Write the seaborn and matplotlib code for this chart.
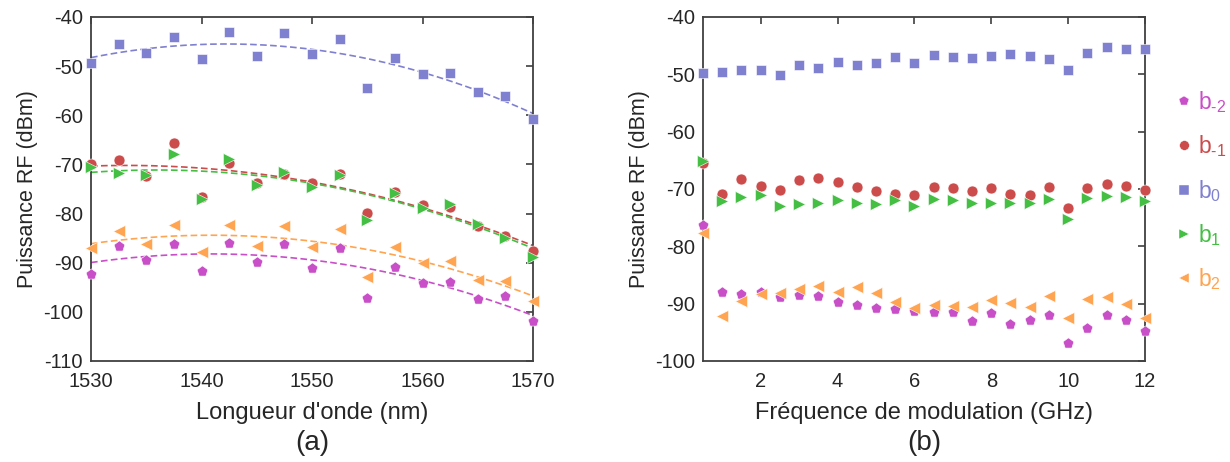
import numpy as np
import pandas as pd
import seaborn as sns
import matplotlib
matplotlib.use("Agg")
import matplotlib.pyplot as plt
from matplotlib.lines import Line2D

# ---------------- data ----------------
wavelength = [1530, 1532.5, 1535, 1537.5, 1540, 1542.5, 1545, 1547.5, 1550,
              1552.5, 1555, 1557.5, 1560, 1562.5, 1565, 1567.5, 1570]
a_bm2 = [-92.3, -86.5, -89.4, -86.2, -91.6, -85.9, -89.9, -86.2, -91.0,
         -87.1, -97.2, -90.9, -94.1, -94.0, -97.4, -96.7, -101.8]
a_bm1 = [-69.9, -69.2, -72.4, -65.6, -76.6, -69.7, -73.7, -72.0, -73.7,
         -71.9, -79.9, -75.6, -78.2, -78.6, -82.6, -84.6, -87.7]
a_b0 = [-49.4, -45.5, -47.4, -44.0, -48.6, -43.0, -48.0, -43.3, -47.6,
        -44.4, -54.5, -48.4, -51.5, -51.3, -55.2, -56.0, -60.8]
a_b1 = [-70.5, -71.7, -72.2, -67.8, -77.0, -68.8, -74.1, -71.5, -74.6,
        -72.2, -81.4, -75.9, -78.8, -78.0, -82.2, -85.0, -88.8]
a_b2 = [-87.1, -83.5, -86.2, -82.4, -87.8, -82.4, -86.5, -82.6, -86.9,
        -83.1, -92.9, -86.8, -90.0, -89.6, -93.5, -93.7, -97.7]

frequency = [0.5, 1, 1.5, 2, 2.5, 3, 3.5, 4, 4.5, 5, 5.5, 6, 6.5, 7, 7.5, 8,
             8.5, 9, 9.5, 10, 10.5, 11, 11.5, 12]
b_bm2 = [-76.2, -87.9, -88.3, -87.9, -88.8, -88.5, -88.6, -89.7, -90.3, -90.7,
         -91.0, -91.3, -91.4, -91.4, -93.1, -91.6, -93.5, -92.8, -91.9, -96.9,
         -94.3, -92.0, -92.9, -94.7]
b_bm1 = [-65.4, -70.8, -68.3, -69.4, -70.1, -68.5, -68.1, -68.7, -69.7, -70.3,
         -70.8, -71.1, -69.7, -69.9, -70.4, -69.9, -70.8, -71.1, -69.6, -73.4,
         -69.8, -69.2, -69.4, -70.2]
b_b0 = [-49.7, -49.6, -49.2, -49.3, -50.2, -48.3, -48.9, -47.9, -48.4, -48.0,
        -46.9, -48.0, -46.7, -47.0, -47.2, -46.8, -46.5, -46.8, -47.3, -49.3,
        -46.2, -45.3, -45.6, -45.5]
b_b1 = [-65.1, -72.1, -71.4, -71.0, -73.0, -72.6, -72.4, -71.9, -72.5, -72.6,
        -72.0, -72.9, -71.7, -71.9, -72.4, -72.5, -72.4, -72.5, -71.8, -75.2,
        -71.6, -71.2, -71.4, -72.1]
b_b2 = [-77.7, -92.2, -89.5, -88.3, -88.1, -87.4, -86.9, -87.9, -87.1, -88.1,
        -89.7, -90.8, -90.2, -90.4, -90.6, -89.4, -89.8, -90.5, -88.6, -92.5,
        -89.2, -88.8, -90.0, -92.5]

series_labels = [r"$\mathregular{b_{\text{-}2}}$", r"$\mathregular{b_{\text{-}1}}$",
                 r"$\mathregular{b_{0}}$", r"$\mathregular{b_{1}}$",
                 r"$\mathregular{b_{2}}$"]
colors = ["#c84fc8", "#cc4b4b", "#8080d0", "#44bf44", "#ffa450"]
markers = ["p", "o", "s", ">", "<"]
msizes = [66, 62, 62, 76, 76]

# ---------------- style ----------------
sns.set_theme(style="white")
plt.rcParams["font.family"] = ["Liberation Sans", "DejaVu Sans"]
plt.rcParams["mathtext.fontset"] = "custom"
plt.rcParams["mathtext.rm"] = "Liberation Sans"
plt.rcParams["axes.unicode_minus"] = False
text_c = "#262626"
spine_c = "#404040"

fig = plt.figure(figsize=(12.3, 4.62), dpi=100)
axA = fig.add_axes([91 / 1230, 1 - 361 / 462, 442 / 1230, 344 / 462])
axB = fig.add_axes([703 / 1230, 1 - 361 / 462, 442 / 1230, 344 / 462])

ser_a = [a_bm2, a_bm1, a_b0, a_b1, a_b2]
ser_b = [b_bm2, b_bm1, b_b0, b_b1, b_b2]

# panel (a): quadratic fits (dashed), then points
grid = np.linspace(min(wavelength), max(wavelength), 200)
for vals, c in zip(ser_a, colors):
    coef = np.polyfit(wavelength, vals, 2)
    sns.lineplot(x=grid, y=np.polyval(coef, grid), ax=axA, color=c,
                 linewidth=1.2, linestyle=(0, (4, 2)), zorder=2)
for vals, c, m, s in zip(ser_a, colors, markers, msizes):
    sns.scatterplot(x=wavelength, y=vals, ax=axA, color=c, marker=m, s=s,
                    edgecolor="white", linewidth=0.4, zorder=3, clip_on=False)

for vals, c, m, s in zip(ser_b, colors, markers, msizes):
    sns.scatterplot(x=frequency, y=vals, ax=axB, color=c, marker=m, s=s,
                    edgecolor="white", linewidth=0.4, zorder=3, clip_on=False)

axA.set_xlim(1530, 1570)
axA.set_ylim(-110, -40)
axA.set_xticks([1530, 1540, 1550, 1560, 1570])
axA.set_yticks(np.arange(-110, -39, 10))
axB.set_xlim(0.5, 12)
axB.set_ylim(-100, -40)
axB.set_xticks([2, 4, 6, 8, 10, 12])
axB.set_yticks(np.arange(-100, -39, 10))

for ax in (axA, axB):
    for sp in ax.spines.values():
        sp.set_color(spine_c)
        sp.set_linewidth(1.3)
        sp.set_visible(True)
    ax.tick_params(direction="in", top=True, right=True, length=5, width=1.2,
                   color=spine_c, labelsize=14.5, labelcolor=text_c, pad=6)
    ax.tick_params(axis="x", pad=8)
    ax.set_ylabel("Puissance RF (dBm)", fontsize=15.5, color=text_c, labelpad=3)
    ax.grid(False)

axA.set_xlabel("Longueur d'onde (nm)", fontsize=17, color=text_c, labelpad=8)
axB.set_xlabel("Fréquence de modulation (GHz)", fontsize=17, color=text_c, labelpad=8)

fig.text((91 + 533) / 2 / 1230, 1 - 443 / 462, "(a)", fontsize=20,
         ha="center", va="center", color=text_c)
fig.text((703 + 1145) / 2 / 1230, 1 - 443 / 462, "(b)", fontsize=20,
         ha="center", va="center", color=text_c)

handles = [Line2D([], [], linestyle="none", marker=m, color=c, markersize=7,
                  markeredgecolor="white", markeredgewidth=0.3)
           for m, c in zip(markers, colors)]
fig.legend(handles, series_labels, loc="upper left",
           bbox_to_anchor=(1166 / 1230, 1 - 80 / 462), frameon=False,
           fontsize=16.5, labelcolor=colors, handlelength=0.8,
           handletextpad=0.2, labelspacing=0.8, borderaxespad=0)

fig.savefig("out.png", dpi=100)
